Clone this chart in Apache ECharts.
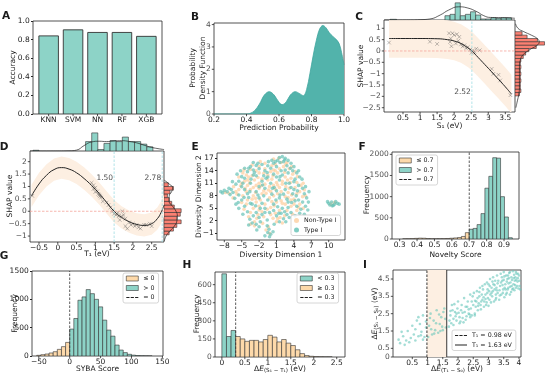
<!DOCTYPE html>
<html><head><meta charset="utf-8">
<script src="https://cdn.jsdelivr.net/npm/echarts@6/dist/echarts.min.js"></script>
<style>html,body{margin:0;padding:0;background:#fff}#c{width:546px;height:377px}</style>
</head><body><div id="c"></div>
<script>
// ================= DATA =================
const modelNames = ['KNN','SVM','NN','RF','XGB'];
const modelAccuracy = [0.84, 0.905, 0.877, 0.877, 0.835];
const accTicks = [0,0.2,0.4,0.6,0.8,1.0];
const probX = [0.2,0.4,0.42,0.45,0.48,0.51,0.54,0.57,0.6,0.62,0.645,0.67,0.7,0.725,0.75,0.77,0.79,0.81,0.83,0.85,0.87,0.89,0.91,0.93,0.95,0.97,0.985,1.0];
const probDensity = [0,0,0.02,0.15,0.45,0.85,1.0,0.85,0.52,0.42,0.55,0.85,1.0,0.92,0.82,1.1,1.8,2.6,3.3,3.8,3.96,3.85,3.63,3.48,3.35,3.15,2.75,2.2];
const probXTicks = [0.2,0.4,0.6,0.8,1.0];
const probYTicks = [0,1,2,3,4];
const cPointsS1   = [0.09,1.29,1.5,1.85,1.95,2.0,2.08,2.15,1.88,1.92,2.05,2.2,2.3,2.4,2.47,2.55,2.6,2.65,2.75,2.51,3.1,3.15,3.3,3.35,3.65,1.9,2.12,2.25,2.35];
const cPointsShap = [0.37,0.41,0.31,0.78,0.78,0.7,0.74,0.62,0.4,0.21,0.33,0.29,0.25,0.17,0.06,0.03,-0.04,0.1,0.03,-0.08,-0.79,-1.01,-1.05,-1.3,-1.95,0.55,0.45,0.2,0.12];
const cCurveS1   = [0.09,0.5,1.0,1.5,1.8,2.0,2.2,2.4,2.52,2.7,2.9,3.1,3.3,3.5,3.68];
const cCurveShap = [0.55,0.55,0.55,0.54,0.5,0.44,0.33,0.14,0.0,-0.28,-0.6,-0.92,-1.25,-1.58,-1.9];
const cBandUpper = [1.4,1.4,1.4,1.39,1.35,1.29,1.18,0.99,0.85,0.57,0.25,-0.07,-0.4,-0.73,-1.05];
const cBandLower = [-0.3,-0.3,-0.3,-0.31,-0.35,-0.41,-0.52,-0.71,-0.85,-1.13,-1.45,-1.77,-2.1,-2.43,-2.75];
const cThreshold = 2.52;
const cThresholdLabelShap = -1.8;
const cTopEdges  = [1.73,1.88,2.03,2.18,2.33,2.48,2.63,2.78,2.93,3.08,3.23,3.38,3.53,3.68];
const cTopCounts = [0.25,0.33,1.0,0.25,0.33,0.48,0.29,0.06,0.06,0.13,0.1,0.13,0.13];
const cTopOutlierEdges = [0.12,0.31];
const cTopOutlierCounts = [0.04];
const cTopKdeX = [-0.05,0.6,1.0,1.29,1.59,1.84,2.13,2.38,2.67,2.87,3.06,3.3,3.54,3.78];
const cTopKdeY = [0.0,0.005,0.02,0.06,0.29,0.58,0.77,0.71,0.48,0.25,0.15,0.14,0.13,0.1];
const cRightEdges  = [-1.98,-1.83,-1.68,-1.53,-1.38,-1.23,-1.08,-0.93,-0.78,-0.63,-0.48,-0.33,-0.18,-0.03,0.11,0.26,0.41,0.55,0.70,0.85];
const cRightCounts = [0.15,0.2,0.18,0.18,0.2,0.18,0.2,0.18,0.2,0.18,0.2,0.28,0.36,0.47,0.72,1.0,0.76,0.41,0.24];
const cRightKdeShap = [1.2,1.0,0.85,0.7,0.55,0.4,0.25,0.1,-0.05,-0.2,-0.4,-0.7,-1.0,-1.3,-1.6,-1.9,-2.2,-2.5];
const cRightKdeDens = [0.02,0.1,0.3,0.55,0.75,0.82,0.75,0.55,0.38,0.25,0.18,0.15,0.15,0.15,0.15,0.13,0.08,0.03];
const cXTicks = [0.5,1,1.5,2,2.5,3,3.5];
const cYTicks = [-2.5,-2,-1.5,-1,-0.5,0,0.5,1];
const dPointsT1   = [-0.68,0.9,0.95,1.0,1.05,1.08,1.1,1.12,1.0,0.95,1.15,1.2,1.3,1.35,1.4,1.45,1.5,1.55,1.6,1.62,1.7,1.75,1.8,1.8,1.85,1.9,1.95,2.0,2.05,2.1,2.15,2.2,2.3,2.35,2.45,2.5,1.65,1.72];
const dPointsShap = [0.62,1.15,1.05,0.95,0.8,0.7,0.65,0.6,0.78,0.9,0.55,0.4,0.35,0.25,0.15,0.0,-0.1,-0.15,-0.05,-0.2,-0.2,-0.15,-0.3,-0.6,-0.7,-0.45,-0.55,-0.5,-0.6,-0.55,-0.65,-0.7,-0.55,-0.55,-0.5,-0.6,-0.35,0.0];
const dCurveT1   = [-0.7,-0.5,-0.3,-0.1,0.1,0.3,0.5,0.7,0.9,1.1,1.3,1.5,1.7,1.9,2.1,2.3,2.5,2.65,2.75,2.83];
const dCurveShap = [0.62,1.1,1.45,1.68,1.76,1.7,1.55,1.32,1.04,0.72,0.36,0.0,-0.25,-0.42,-0.53,-0.57,-0.5,-0.3,-0.05,0.25];
const dBandUpper = [1.07,1.55,1.9,2.13,2.21,2.15,2.0,1.77,1.49,1.17,0.81,0.45,0.2,0.03,-0.08,-0.12,-0.05,0.15,0.4,0.7];
const dBandLower = [0.17,0.65,1.0,1.23,1.31,1.25,1.1,0.87,0.59,0.27,-0.09,-0.45,-0.7,-0.87,-0.98,-1.02,-0.95,-0.75,-0.5,-0.2];
const dThresholds = [1.50, 2.78];
const dThresholdLabelShap = 1.35;
const dTopEdges  = [0.74,0.903,1.066,1.229,1.392,1.555,1.718,1.881,2.044,2.207,2.37,2.533];
const dTopCounts = [0.52,1.0,0.08,0.42,0.58,0.52,0.77,0.52,0.52,0.38,0.23];
const dTopOutlierEdges = [-0.66,-0.5];
const dTopOutlierCounts = [0.04];
const dTopKdeX = [-0.74,-0.2,0.3,0.5,0.7,0.9,1.1,1.3,1.5,1.7,1.9,2.1,2.3,2.5,2.7,2.83];
const dTopKdeY = [0,0,0.01,0.05,0.3,0.5,0.54,0.52,0.55,0.57,0.53,0.45,0.32,0.2,0.12,0.08];
const dRightEdges  = [-0.95,-0.8,-0.65,-0.5,-0.35,-0.2,-0.05,0.1,0.25,0.4,0.55,0.7,0.85,1.0,1.15];
const dRightCounts = [0.3,0.55,0.75,1.0,0.75,0.95,1.0,0.6,0.45,0.3,0.2,0.35,0.55,0.25];
const dRightKdeShap = [1.25,1.1,0.95,0.8,0.6,0.4,0.2,0.0,-0.2,-0.4,-0.6,-0.8,-1.0,-1.2];
const dRightKdeDens = [0.02,0.3,0.5,0.45,0.3,0.3,0.5,0.7,0.78,0.75,0.6,0.35,0.12,0.02];
const dXTicks = [-0.5,0,0.5,1,1.5,2,2.5];
const dYTicks = [-1,-0.5,0,0.5,1,1.5,2];
const eNonTypeI = [[0.5,16.8],[1.8,16.0],[-1.0,15.8],[-2.0,15.0],[-3.5,14.3],[-4.8,13.5],[0.0,13.8],[1.5,14.5],[3.2,14.5],[2.5,12.5],[-2.0,13.5],[-3.8,12.5],[-5.0,11.0],[-4.0,10.5],[-2.5,10.5],[-1.0,10.8],[0.5,10.5],[2.0,10.8],[3.5,12.2],[4.5,11.2],[-0.5,13.0],[1.2,13.5],[-2.8,11.8],[-4.5,11.5],[-5.5,9.5],[-3.5,9.5],[-2.0,9.8],[0.0,9.0],[1.8,9.0],[3.0,8.8],[4.5,8.5],[5.0,9.0],[-6.0,9.0],[-7.2,8.6],[-4.8,8.0],[-3.0,8.0],[-1.5,8.5],[0.5,8.0],[2.5,7.8],[4.0,7.2],[5.5,7.8],[-4.0,7.0],[-2.5,6.5],[-1.0,6.0],[1.0,6.5],[2.5,6.0],[3.5,5.5],[-3.0,5.0],[-2.0,5.5],[0.0,5.2],[1.5,4.5],[2.8,4.5],[-3.5,4.0],[-1.5,4.2],[0.0,3.5],[1.2,2.5],[-2.8,1.8],[-3.5,1.2],[-0.8,-0.2],[-0.2,-1.0],[2.0,1.5],[4.0,6.0],[5.0,6.0],[-1.0,14.5],[2.8,16.0],[0.8,15.5],[-5.5,12.5],[-1.5,12.0],[0.2,12.0],[3.8,13.2],[-3.2,7.2],[-0.2,7.5],[1.2,8.5],[3.5,7.0],[-4.2,6.0],[0.8,3.8],[4.5,4.5],[-2.2,3.5],[-6.5,7.5],[2.0,11.5],[-0.5,11.8],[-3.0,10.0],[5.2,10.5],[1.5,10.0],[-1.8,7.0],[3.2,9.8],[0.5,14.2],[2.2,15.0],[-2.5,14.0],[-4.2,9.0],[-1.2,9.2],[0.8,9.6],[2.6,10.2],[-3.6,11.2],[-0.2,10.2],[1.0,11.2],[-1.6,10.4],[-2.2,12.4],[0.4,12.8],[2.9,11.8],[-4.2,13.0],[3.6,8.2],[-2.6,8.8],[0.2,6.6],[1.8,6.8],[-0.6,4.8],[-5.2,10.4],[4.2,10.0],
[-4.6,14.2],[-3.2,15.4],[-1.8,16.2],[0.2,15.2],[1.4,17.0],[2.6,15.6],[3.6,15.0],[4.2,13.8],[4.6,12.6],[5.6,11.0],[5.8,9.4],[6.0,8.0],[-6.4,10.2],[-5.8,8.4],[-7.8,8.8],[-5.0,6.4],[-4.6,4.8],[-3.8,3.0],[-2.4,2.6],[-1.2,3.0],[0.4,2.6],[2.4,3.2],[3.8,3.6],[4.8,5.2],[5.6,5.0],[-1.4,1.4],[-0.4,0.6],[1.6,2.8],[-2.0,4.6],[0.6,5.6],[2.0,6.2],[3.0,7.6],[-0.8,8.6],[-2.6,7.4],[-4.4,9.8],[-1.2,13.4],[0.8,14.0],[2.4,13.6],[3.4,11.2],[1.2,10.6],[-0.4,9.4],[-2.0,11.0],[-3.2,12.8],[-4.0,11.8],[10.4,6.0],[11.0,6.4],[1.0,1.8],[-2.8,0.8]];
const eTypeI = [[1.5,17.2],[2.0,17.4],[2.5,17.0],[3.0,16.5],[2.2,16.2],[1.2,16.5],[0.5,15.8],[3.5,15.8],[4.0,15.0],[-0.5,15.2],[-1.5,15.5],[-2.5,15.3],[-3.5,15.0],[-4.5,14.6],[-5.2,14.0],[-5.8,13.2],[-4.0,13.8],[-3.0,14.2],[-2.0,14.5],[-1.0,14.0],[0.0,14.6],[1.0,15.0],[2.8,15.2],[3.8,14.0],[4.5,13.5],[5.0,12.5],[4.2,12.0],[3.0,13.5],[2.0,13.0],[0.5,13.2],[-0.5,12.5],[-2.5,12.8],[-4.5,12.2],[-5.5,11.5],[-6.0,10.8],[-5.0,10.2],[-3.5,11.0],[-1.5,11.5],[0.0,11.0],[1.5,11.8],[3.2,11.0],[4.8,10.5],[5.5,9.8],[5.8,8.5],[6.2,7.5],[5.5,6.5],[6.0,5.5],[5.2,4.8],[4.5,5.5],[4.8,7.0],[3.8,8.5],[2.5,9.5],[1.0,9.2],[-1.0,9.8],[-2.5,9.0],[-4.0,8.5],[-5.5,8.2],[-6.5,8.8],[-7.5,9.0],[-8.3,8.7],[-8.0,9.3],[-7.0,8.3],[-5.0,7.0],[-4.5,5.5],[-3.5,6.2],[-2.0,7.5],[-0.5,7.0],[1.5,7.5],[3.0,6.5],[2.0,5.0],[0.5,4.5],[-1.0,5.0],[-2.5,4.0],[-4.0,4.2],[-3.0,3.2],[-1.5,3.5],[1.0,3.2],[2.2,2.5],[1.5,1.8],[3.5,4.0],[4.2,3.2],[-3.2,1.5],[-2.5,1.2],[-0.5,-0.8],[0.0,-1.2],[-0.3,0.0],[10.0,6.2],[10.5,6.5],[11.0,6.0],[11.5,6.2],[10.8,5.7],[10.2,5.8],[1.8,3.8],[-6.0,6.0],[-5.5,5.0],[0.2,16.5],[-3.0,13.0],[4.0,9.5],[-2.0,2.8],[2.8,3.5],[5.0,3.8],[-1.2,12.8],[1.0,12.5],[2.5,14.2],[-4.5,9.5],[0.5,6.0],[-1.5,6.2],[3.5,10.0],[-6.8,9.5],[6.5,6.5],[-3.0,16.0],[1.6,16.0],[-4.8,11.0],[-2.0,10.2],[0.3,9.8],[2.2,8.4],[-3.8,7.6],[-1.2,8.0],[0.9,7.0],[2.8,7.2],[-2.6,5.6],[1.2,5.4],[3.0,5.2],[4.4,8.0],[-0.6,13.6],[1.8,14.0],[-3.4,12.0],[-1.0,4.0],[11.2,6.6],[-0.6,0.8],
[-5.0,12.6],[-3.8,14.6],[-2.2,15.8],[-0.4,16.2],[0.8,16.2],[2.4,16.6],[3.4,14.6],[4.8,14.0],[5.4,12.0],[6.0,10.2],[6.6,9.0],[6.4,4.6],[5.8,3.6],[-6.6,11.4],[-7.2,9.8],[-8.6,9.0],[-6.2,7.4],[-5.6,6.4],[-4.8,3.6],[-3.6,2.4],[-1.8,1.8],[-0.6,2.2],[0.6,1.2],[2.6,1.8],[3.2,2.8],[-1.0,-1.6],[0.4,-0.6],[-0.2,-1.8],[-3.8,1.0],[-2.0,0.6],[1.4,3.8],[3.6,6.4],[4.2,6.8],[2.4,4.2],[-0.2,4.0],[-1.8,5.0],[-3.2,6.0],[-4.6,7.6],[-3.6,9.0],[-1.4,10.6],[0.6,10.0],[2.6,11.0],[4.0,11.4],[1.6,12.6],[-0.8,12.2],[-2.8,13.6],[0.2,8.4],[1.6,8.2],[-2.2,8.2],[4.6,9.2],[10.6,5.6],[11.8,6.0],[9.8,6.6],[-2.4,-0.2]];
const eXTicks = [-8,-5,-2,1,4,7,10];
const eYTicks = [-1,2,5,8,11,14,17];
const fLowEdges  = [0.3175,0.34,0.3625,0.385,0.4075,0.43,0.4525,0.475,0.4975,0.52,0.5425,0.565,0.5875,0.61,0.6325,0.655,0.6775,0.7];
const fLowCounts = [3,5,8,15,20,18,10,5,5,6,8,12,18,25,35,60,150];
const fHighEdges  = [0.7,0.7225,0.745,0.7675,0.79,0.8125,0.835,0.8575,0.88,0.9025,0.925,0.9475];
const fHighCounts = [230,250,340,600,1200,1480,1920,1910,1000,520,30];
const fThreshold = 0.7;
const fXTicks = [0.3,0.4,0.5,0.6,0.7,0.8,0.9];
const fYTicks = [0,500,1000,1500,2000];
const gLowEdges  = [-53.33,-46.67,-40,-33.33,-26.67,-20,-13.33,-6.67,0];
const gLowCounts = [12,23,35,53,76,117,165,240];
const gHighEdges  = [0,6.67,13.33,20,26.67,33.33,40,46.67,53.33,60,66.67,73.33,80,86.67,93.33,100,106.67,113.33,120,126.67,133.33];
const gHighCounts = [475,662,984,1043,1172,1100,1000,867,633,457,350,193,105,60,30,15,8,4,2,1];
const gThreshold = 0;
const gXTicks = [-50,0,50,100,150];
const gYTicks = [0,500,1000,1500];
const hLowEdges  = [0,0.1,0.2,0.3];
const hLowCounts = [690,170,220];
const hHighEdges  = [0.3,0.4,0.5,0.6,0.7,0.8,0.9,1.0,1.1,1.2,1.3,1.4,1.5,1.6,1.7,1.8,1.9,2.0,2.1,2.2,2.3,2.4];
const hHighCounts = [170,150,130,138,138,125,145,180,165,125,145,115,95,60,28,12,6,3,2,1,1];
const hThreshold = 0.3;
const hXTicks = [0,0.5,1,1.5,2,2.5];
const hYTicks = [0,150,300,450,600];
const iPoints = [[0.05,1.0],[0.1,0.8],[0.2,1.2],[0.3,0.95],[0.35,1.5],[0.45,1.1],[0.5,1.8],[0.15,1.45],[0.4,0.85],[0.25,0.7],
[0.55,1.3],[0.6,1.6],[0.65,2.1],[0.7,1.2],[0.75,1.9],[0.8,1.45],[0.85,2.4],[0.9,1.15],[0.95,1.7],[0.6,0.95],[0.7,2.3],[0.85,1.0],[0.95,2.05],[0.78,1.25],
[1.02,1.15],[1.05,1.8],[1.1,2.5],[1.15,1.3],[1.2,2.1],[1.25,1.55],[1.3,2.7],[1.35,1.4],[1.4,1.9],[1.45,2.3],[1.5,1.55],[1.55,2.8],[1.6,1.7],[1.12,1.6],[1.28,1.95],[1.38,2.45],[1.48,1.75],[1.58,2.2],[1.08,2.25],[1.42,1.5],[1.22,1.35],[1.52,2.6],
[1.7,1.75],[1.75,2.4],[1.8,3.0],[1.85,1.85],[1.9,2.6],[1.95,2.1],[2.0,3.2],[2.05,1.95],[2.1,2.7],[2.15,2.25],[2.2,3.4],[2.25,2.15],[2.3,2.9],[2.35,2.5],[2.4,3.6],[2.45,2.4],[2.5,3.0],[1.72,2.1],[1.82,2.7],[1.92,2.35],[2.02,2.55],[2.12,3.0],[2.22,2.6],[2.32,3.2],[2.42,2.8],[1.88,3.05],[2.08,2.05],[2.28,2.35],[2.48,3.5],[1.78,1.95],[1.98,2.8],[2.18,2.0],[2.38,2.45],
[2.55,2.5],[2.6,3.2],[2.62,3.8],[2.65,2.7],[2.7,3.5],[2.72,4.0],[2.75,2.75],[2.8,3.3],[2.82,3.9],[2.85,2.9],[2.88,4.2],[2.9,3.6],[2.92,3.0],[2.95,4.3],[2.98,3.4],[3.0,2.95],[3.02,3.8],[3.05,4.5],[3.08,3.15],[3.1,4.0],[3.12,3.5],[3.15,4.6],[3.18,3.2],[3.2,3.9],[3.22,4.4],[3.25,3.4],[3.28,4.7],[3.3,3.7],[2.58,2.9],[2.68,3.1],[2.78,3.6],[2.86,3.2],[2.96,3.7],[3.06,3.6],[3.16,4.2],[3.26,4.0],[2.64,3.4],[2.74,3.0],[2.84,3.45],[2.94,3.15],[3.04,4.1],[3.14,3.8],[3.24,3.6],
[3.35,3.3],[3.38,4.1],[3.4,4.8],[3.42,3.6],[3.45,4.4],[3.48,3.9],[3.5,4.9],[3.52,3.45],[3.55,4.2],[3.58,4.7],[3.6,3.7],[3.62,4.5],[3.65,4.0],[3.68,4.85],[3.7,3.6],[3.72,4.3],[3.75,4.6],[3.78,3.9],[3.8,4.95],[3.82,4.2],[3.85,3.85],[3.88,4.6],[3.9,4.0],[3.92,4.8],[3.95,4.35],[3.98,3.95],[4.0,4.7],[4.02,4.1],[3.36,3.85],[3.46,4.15],[3.56,3.9],[3.66,4.25],[3.76,4.1],[3.86,4.4],[3.96,4.55],[3.44,4.6],[3.64,4.7],[3.84,4.75],
[2.52,3.7],[2.56,3.25],[2.66,2.95],[2.7,3.75],[2.76,3.2],[2.8,4.1],[2.9,3.35],[2.97,3.9],[3.0,4.2],[3.03,3.3],[3.1,3.7],[3.13,4.35],[3.2,4.15],[3.23,3.3],[3.27,3.85],[3.32,4.4],[3.37,3.55],[3.41,4.3],[3.47,3.7],[3.5,4.45],[3.53,4.0],[3.57,3.6],[3.6,4.35],[3.63,3.9],[3.67,4.55],[3.71,4.05],[3.74,3.75],[3.77,4.45],[3.81,3.95],[3.83,4.55],[3.87,4.15],[3.91,4.45],[3.94,4.1],[3.97,4.8],[4.01,4.4],[4.04,3.9],[3.52,4.65],[3.7,4.9],[3.9,4.9],[3.3,4.25],[2.45,3.2],[2.35,2.75],[2.25,2.9],[2.15,2.55],[2.05,2.3],[1.95,2.5],[1.85,2.2],[1.75,2.65],[2.4,2.3],[2.55,2.4]];
const iT1Dashed = 0.98;
const iT1Solid = 1.63;
const iXTicks = [0.5,1,1.5,2,2.5,3,3.5,4];
const iYTicks = [0,0.5,1.5,2.5,3.5,4.5];

// ================= STYLE =================
const FONT = 'DejaVu Sans';
const FS = 7.5;
const LFS = 6.3;
const TXT = '#1a1a1a';
const AX = '#262626';
const EDGE = '#333333';
const TEAL = '#8dd3c7';
const PEACH = '#fdd9aa';
const SALMON = '#fb8072';
const DENS = '#52b3ab';
const CYAN = '#9edce2';
const REDDASH = '#f4a39b';
const BAND = '#fdefe2';
const DASH_ICON = 'path://M0,0h0.05v0.05h-0.05z M0,4.95h0.05v0.05h-0.05z M0,2h3.2v1h-3.2z M4.4,2h3.2v1h-3.2z M8.8,2h3.2v1h-3.2z';
const SOLID_ICON = 'path://M0,0h0.05v0.05h-0.05z M0,4.95h0.05v0.05h-0.05z M0,2h12v1h-12z';

const grids = [], xAxes = [], yAxes = [], series = [], legends = [], graphics = [], axisSpecs = [];
const gridX = {};

function minus(s){ return s.replace('-', '\u2212'); }
function fmt(v){ return minus(String(Math.round(v*1e6)/1e6)); }
function fmt1(v){ return minus(v.toFixed(1)); }

function addGrid(l,t,w,h,frame){
  grids.push({left:l, top:t, width:w, height:h, show:!!frame, borderColor:AX, borderWidth:0.8, backgroundColor:'rgba(0,0,0,0)', containLabel:false});
  return grids.length-1;
}
function axisCfg(gi,min,max){
  return {type:'value', gridIndex:gi, min, max, show:true,
    axisLine:{show:false}, splitLine:{show:false}, axisTick:{show:false}, axisLabel:{show:false}};
}
function addX(gi,min,max,ticks,f){
  xAxes.push(axisCfg(gi,min,max));
  const idx = xAxes.length-1;
  gridX[gi] = {idx, min};
  const gg = grids[gi];
  if (ticks) axisSpecs.push({dim:'x', idx, l:gg.left, t:gg.top, w:gg.width, h:gg.height, min, max, ticks, f:f||fmt});
  return idx;
}
// html: true draws that axis' y tick labels as page text over the chart
function addY(gi,min,max,ticks,f,html){
  yAxes.push(axisCfg(gi,min,max));
  const idx = yAxes.length-1;
  const gg = grids[gi];
  if (ticks) {
    const spec = {dim:'y', idx, l:gg.left, t:gg.top, w:gg.width, h:gg.height, min, max, ticks, f:f||fmt, html:!!html};
    axisSpecs.push(spec);
    if (!html) {
      const gx = gridX[gi];
      series.push({type:'scatter', xAxisIndex:gx.idx, yAxisIndex:idx, clip:false, silent:true, z:20,
        data: ticks.map(v=>[gx.min, v]), symbolSize:0, itemStyle:{color:'rgba(0,0,0,0)'},
        label:{show:true, position:'left', distance:3.3, formatter:p=>spec.f(p.value[1]), fontSize:FS, fontFamily:FONT, color:TXT},
        labelLayout:{hideOverlap:false}});
    }
  }
  return idx;
}

function hist(name, xi, yi, edges, counts, color, horizontal){
  const data = counts.map((c,i)=>[edges[i], edges[i+1], c]);
  return {type:'custom', name, xAxisIndex:xi, yAxisIndex:yi, clip:true, silent:true,
    itemStyle:{color, borderColor:EDGE, borderWidth:0.6},
    encode: horizontal ? {x:2, y:[0,1]} : {x:[0,1], y:2},
    data,
    renderItem:(params, api)=>{
      const a = api.value(0), b = api.value(1), c = api.value(2);
      const p0 = horizontal ? api.coord([0, b]) : api.coord([a, c]);
      const p1 = horizontal ? api.coord([c, a]) : api.coord([b, 0]);
      return {type:'rect', shape:{x:Math.min(p0[0],p1[0]), y:Math.min(p0[1],p1[1]), width:Math.abs(p1[0]-p0[0]), height:Math.abs(p1[1]-p0[1])},
        style:{fill:color, stroke:EDGE, lineWidth:0.6}};
    }};
}
function band(xi, yi, xs, up, lo){
  return {type:'custom', xAxisIndex:xi, yAxisIndex:yi, clip:true, silent:true, z:1,
    data:[[xs[0], up[0]]], encode:{x:0, y:1},
    renderItem:(params, api)=>{
      const pts = [];
      for (let i=0;i<xs.length;i++) pts.push(api.coord([xs[i], up[i]]));
      for (let i=xs.length-1;i>=0;i--) pts.push(api.coord([xs[i], lo[i]]));
      return {type:'polygon', shape:{points:pts}, style:{fill:BAND}};
    }};
}
function line(xi, yi, xs, ys, color, width){
  return {type:'line', xAxisIndex:xi, yAxisIndex:yi, data:xs.map((x,i)=>[x, ys[i]]), smooth:true, showSymbol:false, symbol:'none', silent:true,
    lineStyle:{color, width}, itemStyle:{color}};
}
const XMARK = 'path://M0 0L10 10M10 0L0 10';
function xScatter(xi, yi, xs, ys){
  return {type:'scatter', xAxisIndex:xi, yAxisIndex:yi, data:xs.map((x,i)=>[x, ys[i]]), symbol:XMARK, symbolSize:3.6, silent:true,
    itemStyle:{color:'rgba(0,0,0,0)', borderColor:'rgba(70,70,70,0.75)', borderWidth:0.6}};
}
function vline(name, xi, yi, xv, y0, y1, color, type, width){
  return {type:'line', name, xAxisIndex:xi, yAxisIndex:yi, data:[[xv,y0],[xv,y1]], showSymbol:false, symbol:'none', silent:true, z:4,
    lineStyle:{color, type, width}, itemStyle:{color}};
}
function threshLabel(xi, yi, xv, yv){
  return {type:'scatter', xAxisIndex:xi, yAxisIndex:yi, data:[[xv, yv]], symbolSize:0.1, silent:true, z:6,
    itemStyle:{color:'rgba(0,0,0,0)'},
    label:{show:true, position:'left', distance:1, formatter: xv.toFixed(2), fontSize:FS, fontFamily:FONT, color:TXT}};
}
function legendBox(left, top, data, iw){
  legends.push({left, top, orient:'vertical', data, itemWidth:iw||12, itemHeight:5, itemGap:3.5, selectedMode:false,
    padding:[2.5,4,2.5,3], borderColor:'#cccccc', borderWidth:0.8, borderRadius:2, backgroundColor:'rgba(255,255,255,0.85)',
    textStyle:{fontSize:LFS, fontFamily:FONT, color:TXT}});
}
function patch(name, color){ return {name, icon:'rect', itemStyle:{color, borderColor:EDGE, borderWidth:0.6}}; }
function lineItem(name, icon){ return {name, icon, itemStyle:{color:'#222', borderWidth:0}, lineStyle:{width:0, opacity:0}}; }
function gText(txt, x, y, o){
  o = o || {};
  graphics.push({type:'text', x, y, rotation:o.rot||0, silent:true, z:10, zlevel:1,
    style:{text:txt, fontSize:o.size||FS, fontFamily:FONT, fontWeight:o.bold?'bold':'normal', fill:TXT,
      align:o.align||'center', verticalAlign:'middle', textAlign:o.align||'center', textVerticalAlign:'middle', rich:o.rich}});
}

// ================= PANELS =================
{ // A
  const g = addGrid(33,21,129,93,true);
  const xi = addX(g,-0.64,4.64,[0,1,2,3,4], v=>modelNames[Math.round(v)]);
  const yi = addY(g,0,1.0,accTicks,fmt1,true);
  series.push({type:'custom', xAxisIndex:xi, yAxisIndex:yi, clip:true, silent:true,
    data: modelAccuracy.map((a,i)=>[i,a]), encode:{x:0,y:1},
    renderItem:(params, api)=>{
      const i = api.value(0), a = api.value(1);
      const p0 = api.coord([i-0.4, a]), p1 = api.coord([i+0.4, 0]);
      return {type:'rect', shape:{x:p0[0], y:p0[1], width:p1[0]-p0[0], height:p1[1]-p0[1]}, style:{fill:TEAL, stroke:EDGE, lineWidth:0.9}};
    }});
}
{ // B
  const g = addGrid(214,23,130,91,true);
  const xi = addX(g,0.2,1.0,probXTicks,fmt1);
  const yi = addY(g,0,4.07,probYTicks,fmt);
  series.push({type:'line', xAxisIndex:xi, yAxisIndex:yi, data:probX.map((x,i)=>[x, probDensity[i]]), smooth:0.35, showSymbol:false, symbol:'none', silent:true,
    lineStyle:{color:'#3fa69e', width:0.8}, areaStyle:{color:DENS, opacity:1}});
}
{ // C
  const cx0=-0.057, cx1=3.784, cy0=-2.69, cy1=1.366;
  const g = addGrid(384,20,131,92,true);
  const xi = addX(g,cx0,cx1,cXTicks,fmt);
  const yi = addY(g,cy0,cy1,cYTicks,fmt);
  series.push(band(xi, yi, cCurveS1, cBandUpper, cBandLower));
  series.push(vline(undefined, xi, yi, cThreshold, cy0, cy1, CYAN, [2.5,1.5], 0.8));
  series.push({type:'line', xAxisIndex:xi, yAxisIndex:yi, data:[[cx0,0],[cx1,0]], showSymbol:false, symbol:'none', silent:true, z:3, lineStyle:{color:REDDASH, type:[2.5,1.5], width:0.8}});
  series.push(line(xi, yi, cCurveS1, cCurveShap, '#222', 1.0));
  series.push(xScatter(xi, yi, cPointsS1, cPointsShap));
  series.push(threshLabel(xi, yi, cThreshold, cThresholdLabelShap));
  const gt = addGrid(384,2,131,18,false);
  const txi = addX(gt,cx0,cx1,null), tyi = addY(gt,0,1.05,null);
  series.push(hist(undefined, txi, tyi, cTopEdges, cTopCounts, TEAL, false));
  series.push(hist(undefined, txi, tyi, cTopOutlierEdges, cTopOutlierCounts, TEAL, false));
  series.push(line(txi, tyi, cTopKdeX, cTopKdeY, '#222', 0.7));
  const gr = addGrid(515,20,31,92,false);
  const rxi = addX(gr,0,1.05,null), ryi = addY(gr,cy0,cy1,null);
  series.push(hist(undefined, rxi, ryi, cRightEdges, cRightCounts, SALMON, true));
  series.push(line(rxi, ryi, cRightKdeDens, cRightKdeShap, '#222', 0.7));
}
{ // D
  const dx0=-0.74, dx1=2.828, dy0=-1.24, dy1=2.43;
  const g = addGrid(30,151,134,91,true);
  const xi = addX(g,dx0,dx1,dXTicks,fmt);
  const yi = addY(g,dy0,dy1,dYTicks,fmt);
  series.push(band(xi, yi, dCurveT1, dBandUpper, dBandLower));
  dThresholds.forEach(t=>series.push(vline(undefined, xi, yi, t, dy0, dy1, CYAN, [2.5,1.5], 0.8)));
  series.push({type:'line', xAxisIndex:xi, yAxisIndex:yi, data:[[dx0,0],[dx1,0]], showSymbol:false, symbol:'none', silent:true, z:3, lineStyle:{color:REDDASH, type:[2.5,1.5], width:0.8}});
  series.push(line(xi, yi, dCurveT1, dCurveShap, '#222', 1.0));
  series.push(xScatter(xi, yi, dPointsT1, dPointsShap));
  dThresholds.forEach(t=>series.push(threshLabel(xi, yi, t, dThresholdLabelShap)));
  const gt = addGrid(30,132,134,19,false);
  const txi = addX(gt,dx0,dx1,null), tyi = addY(gt,0,1.05,null);
  series.push(hist(undefined, txi, tyi, dTopEdges, dTopCounts, TEAL, false));
  series.push(hist(undefined, txi, tyi, dTopOutlierEdges, dTopOutlierCounts, TEAL, false));
  series.push(line(txi, tyi, dTopKdeX, dTopKdeY, '#222', 0.7));
  const gr = addGrid(164,151,18,91,false);
  const rxi = addX(gr,0,1.05,null), ryi = addY(gr,dy0,dy1,null);
  series.push(hist(undefined, rxi, ryi, dRightEdges, dRightCounts, SALMON, true));
  series.push(line(rxi, ryi, dRightKdeDens, dRightKdeShap, '#222', 0.7));
}
{ // E
  const g = addGrid(217,153,128,87,true);
  const xi = addX(g,-9.26,12.81,eXTicks,fmt);
  const yi = addY(g,-2.59,18.27,eYTicks,fmt,true);
  series.push({type:'scatter', name:'Non-Type I', xAxisIndex:xi, yAxisIndex:yi, data:eNonTypeI, symbolSize:3.6, silent:true, itemStyle:{color:'rgba(253,206,160,0.9)'}});
  series.push({type:'scatter', name:'Type I', xAxisIndex:xi, yAxisIndex:yi, data:eTypeI, symbolSize:3.6, silent:true, itemStyle:{color:'rgba(98,192,180,0.85)'}});
  legendBox(291, 215, [{name:'Non-Type I', icon:'circle', itemStyle:{color:'#fdcea0'}}, {name:'Type I', icon:'circle', itemStyle:{color:'#62c0b4'}}], 5);
}
{ // F
  const fy1 = 2055;
  const g = addGrid(392,152,127,87,true);
  const xi = addX(g,0.256,0.986,fXTicks,fmt1);
  const yi = addY(g,0,fy1,fYTicks,fmt);
  series.push(hist('\u2264 0.7', xi, yi, fLowEdges, fLowCounts, PEACH, false));
  series.push(hist('> 0.7', xi, yi, fHighEdges, fHighCounts, TEAL, false));
  series.push(vline('= 0.7', xi, yi, fThreshold, 0, fy1, '#333', [2.5,1.5], 0.8));
  legendBox(396, 155, [patch('\u2264 0.7', PEACH), patch('> 0.7', TEAL), lineItem('= 0.7', DASH_ICON)]);
}
{ // G
  const gy1 = 1500;
  const g = addGrid(32,271,131,85,true);
  const xi = addX(g,-61,151,gXTicks,fmt);
  const yi = addY(g,0,gy1,gYTicks,fmt,true);
  series.push(hist('\u2264 0', xi, yi, gLowEdges, gLowCounts, PEACH, false));
  series.push(hist('> 0', xi, yi, gHighEdges, gHighCounts, TEAL, false));
  series.push(vline('= 0', xi, yi, gThreshold, 0, gy1, '#333', [2.5,1.5], 0.8));
  legendBox(123, 273, [patch('\u2264 0', PEACH), patch('> 0', TEAL), lineItem('= 0', DASH_ICON)]);
}
{ // H
  const hy1 = 705;
  const g = addGrid(215,272,130,85,true);
  const xi = addX(g,-0.15,2.68,hXTicks,fmt);
  const yi = addY(g,0,hy1,hYTicks,fmt);
  series.push(hist('< 0.3', xi, yi, hLowEdges, hLowCounts, TEAL, false));
  series.push(hist('\u2265 0.3', xi, yi, hHighEdges, hHighCounts, PEACH, false));
  series.push(vline('= 0.3', xi, yi, hThreshold, 0, hy1, '#333', [2.5,1.5], 0.8));
  legendBox(297, 273, [patch('< 0.3', TEAL), patch('\u2265 0.3', PEACH), lineItem('= 0.3', DASH_ICON)]);
}
{ // I
  const iy1 = 5.02;
  const g = addGrid(393,270,128,87,true);
  const xi = addX(g,-0.133,4.066,iXTicks,fmt);
  const yi = addY(g,0,iy1,iYTicks,fmt);
  series.push({type:'scatter', xAxisIndex:xi, yAxisIndex:yi, data:iPoints, symbolSize:2.6, silent:true,
    itemStyle:{color:'rgba(104,198,186,0.75)'},
    markArea:{silent:true, itemStyle:{color:BAND}, data:[[{xAxis:iT1Dashed},{xAxis:iT1Solid}]]}});
  series.push(vline('T\u2081 = 0.98 eV', xi, yi, iT1Dashed, 0, iy1, '#222', [2.5,1.5], 0.9));
  series.push(vline('T\u2081 = 1.63 eV', xi, yi, iT1Solid, 0, iy1, '#222', 'solid', 0.9));
  legendBox(452, 330, [lineItem('T\u2081 = 0.98 eV', DASH_ICON), lineItem('T\u2081 = 1.63 eV', SOLID_ICON)]);
}

// ================= TEXT =================
const letters = [['A',6,16],['B',195,17],['C',359,17],['D',4,147],['E',195,147],['F',362,147],['G',4,256],['H',187,265],['I',365,265]];
letters.forEach(l=>gText(l[0], l[1], l[2], {bold:true, size:10.5}));
const R = Math.PI/2;
gText('Accuracy', 13, 67.5, {rot:R});
gText('Probability', 193.5, 68, {rot:R});
gText('Density Function', 203, 68, {rot:R});
gText('Prediction Probability', 279, 128);
gText('SHAP value', 361, 66, {rot:R});
gText('S\u2081 (eV)', 449.5, 126);
gText('SHAP value', 10, 196, {rot:R});
gText('T\u2081 (eV)', 97, 254);
gText('Diversity Dimension 2', 199, 196.5, {rot:R});
gText('Diversity Dimension 1', 281, 255);
gText('Frequency', 367.5, 195, {rot:R});
gText('Novelty Score', 455.5, 255);
gText('Frequency', 15, 313.5, {rot:R});
gText('SYBA Score', 97.5, 369);
gText('Frequency', 197, 314, {rot:R});
const deRich = {i:{fontStyle:'italic', fontSize:FS, fontFamily:FONT}, n:{fontSize:FS, fontFamily:FONT}, s:{fontSize:5.6, fontFamily:FONT, padding:[4,0,0,0]}};
gText('{n|\u0394}{i|E}{s|(S\u2081 \u2212 T\u2081)}{n| (eV)}', 280, 369, {rich:deRich});
gText('{n|\u0394}{i|E}{s|(S\u2081 \u2212 S\u2080)}{n| (eV)}', 375, 313.5, {rot:R, rich:deRich});
gText('{n|\u0394}{i|E}{s|(T\u2081 \u2212 S\u2080)}{n| (eV)}', 457, 369, {rich:deRich});

const chart = echarts.init(document.getElementById('c'), null, {renderer:'canvas', width:546, height:377});
chart.setOption({
  animation:false,
  backgroundColor:'#ffffff',
  textStyle:{fontFamily:FONT},
  grid:grids, xAxis:xAxes, yAxis:yAxes, series, legend:legends
});

// tick marks and tick labels, placed through the axes' own scales (with a linear fallback)
const tickEls = [];
function toPx(s, v){
  let p = NaN;
  try { p = chart.convertToPixel(s.dim==='x' ? {xAxisIndex:s.idx} : {yAxisIndex:s.idx}, v); } catch(e) { p = NaN; }
  if (Array.isArray(p)) p = s.dim==='x' ? p[0] : p[1];
  const lin = s.dim==='x' ? s.l + (v - s.min)/(s.max - s.min)*s.w : s.t + s.h - (v - s.min)/(s.max - s.min)*s.h;
  if (!isFinite(p) || Math.abs(p - lin) > 1.5) p = lin;
  return p;
}
const overlay = document.createElement('div');
overlay.style.cssText = 'position:absolute;left:0;top:0;width:546px;height:377px;pointer-events:none;z-index:10;';
document.body.appendChild(overlay);
axisSpecs.forEach(s=>{
  s.ticks.forEach(v=>{
    const p = toPx(s, v);
    if (s.dim==='x'){
      const yb = s.t + s.h;
      tickEls.push({type:'line', silent:true, z:10, zlevel:1, shape:{x1:p, y1:yb, x2:p, y2:yb+2.2}, style:{stroke:AX, lineWidth:0.8}});
      tickEls.push({type:'text', silent:true, z:10, zlevel:1, x:p, y:yb+6.2, style:{text:s.f(v), fontSize:FS, fontFamily:FONT, fill:TXT, align:'center', verticalAlign:'middle'}});
    } else if (!s.html) {
      tickEls.push({type:'line', silent:true, z:10, zlevel:1, shape:{x1:s.l-2.2, y1:p, x2:s.l, y2:p}, style:{stroke:AX, lineWidth:0.8}});
    } else {
      const lab = document.createElement('div');
      lab.textContent = s.f(v);
      lab.style.cssText = 'position:absolute;left:'+(s.l-3.3-40)+'px;top:'+(p-6)+'px;width:40px;height:12px;line-height:12px;text-align:right;white-space:nowrap;font-family:"DejaVu Sans";font-size:7.5px;color:'+TXT+';';
      overlay.appendChild(lab);
      const tk = document.createElement('div');
      tk.style.cssText = 'position:absolute;left:'+(s.l-2.2)+'px;top:'+(p-0.4)+'px;width:2.2px;height:0.8px;background:'+AX+';';
      overlay.appendChild(tk);
    }
  });
});
chart.setOption({graphic:{elements: graphics.concat(tickEls)}});
</script></body></html>
